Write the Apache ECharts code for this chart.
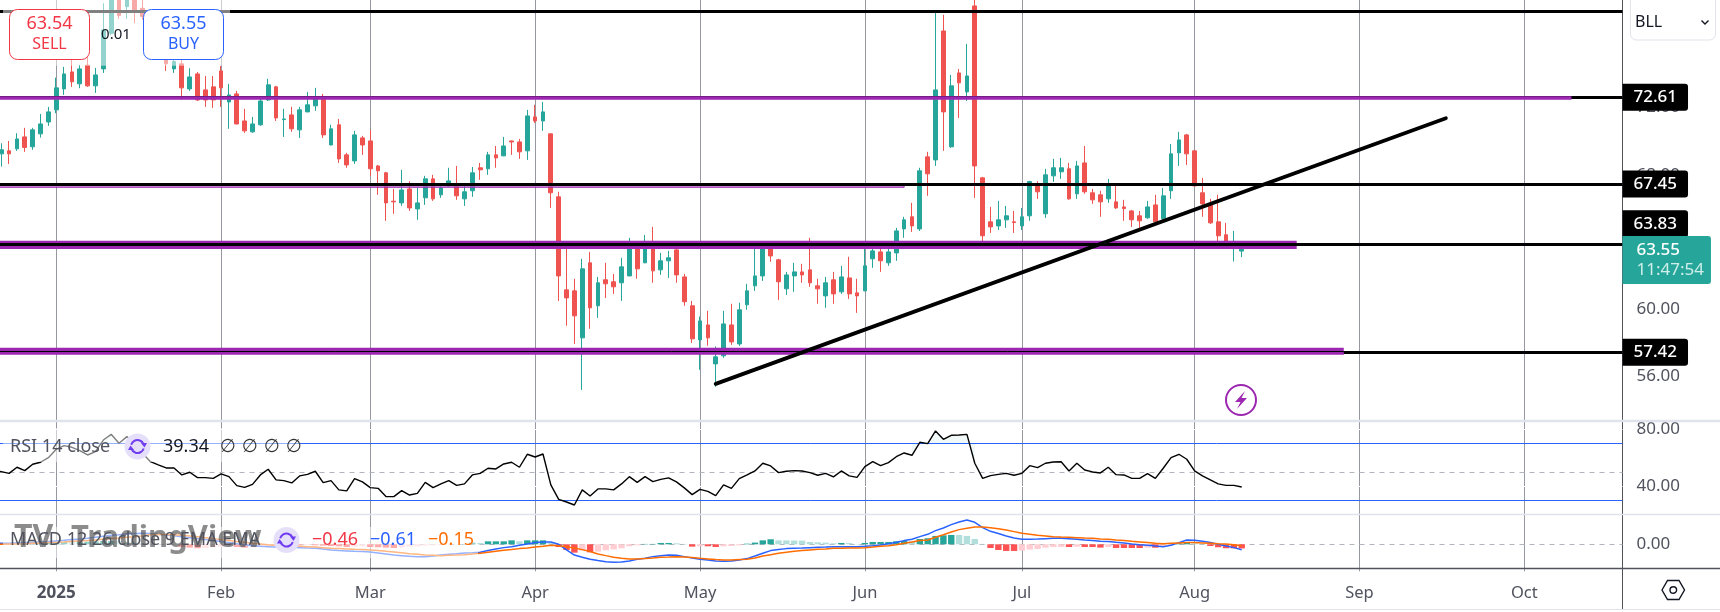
<!DOCTYPE html>
<html><head><meta charset="utf-8">
<style>html,body{margin:0;padding:0;background:#fff}#c{width:1720px;height:612px}</style>
<script src="https://cdn.jsdelivr.net/npm/echarts@6/dist/echarts.min.js"></script>
</head><body><div id="c"></div><script>
// first bar is 8 sessions before the 2025 label
const firstBar=-8;
const monthBars=[0,21,40,61,82,103,123,145,166,187];
const monthLabels=['2025','Feb','Mar','Apr','May','Jun','Jul','Aug','Sep','Oct'];
const lastSlot=199;
// [open, close, low, high]
const ohlc=[
[69.10,69.24,68.80,69.60],[69.24,69.48,68.48,69.87],[69.42,69.24,68.64,70.01],[69.54,70.13,69.42,70.47],[70.25,69.62,69.36,70.79],[69.66,70.67,69.48,70.79],[70.43,71.02,70.21,71.62],[71.14,71.74,70.91,72.04],
[71.86,73.17,71.66,73.78],[73.11,74.00,72.75,74.42],[74.12,73.53,73.23,74.84],[73.41,74.30,73.15,74.54],[74.52,73.29,73.23,75.04],[73.29,73.94,72.87,74.36],[74.30,76.62,74.06,78.21],[76.42,78.81,76.30,79.30],
[79.00,77.48,77.28,79.40],[78.01,78.90,77.28,79.30],[78.90,77.81,77.02,79.20],[77.91,77.42,77.22,78.60],[77.50,76.60,76.30,77.80],[76.60,75.90,75.50,76.90],[74.84,74.60,74.18,75.40],[74.30,74.74,74.06,75.20],
[74.60,73.17,72.45,74.84],[73.11,73.82,72.99,74.34],[74.00,72.45,72.39,74.12],[73.05,72.45,72.04,73.88],[73.23,72.45,71.98,73.88],[74.18,73.17,72.04,74.48],[72.33,72.75,70.73,73.41],[72.81,71.02,71.00,72.99],
[71.20,70.61,70.49,71.92],[70.55,71.02,70.49,71.44],[70.97,72.39,70.91,72.57],[72.45,73.35,72.39,73.71],[73.23,71.38,71.20,73.29],[71.28,71.32,70.25,71.92],[71.56,70.73,70.55,72.04],[70.67,71.86,70.19,72.04],
[71.74,72.16,71.72,72.93],[72.10,72.63,71.80,73.17],[72.57,70.37,70.19,72.81],[69.77,70.73,69.75,70.97],[70.97,68.94,68.70,71.32],[69.18,68.58,68.41,69.30],[68.82,70.37,68.64,70.61],[70.19,69.77,69.18,70.31],
[70.01,68.35,67.93,70.67],[68.52,68.23,66.80,68.58],[68.11,66.32,65.25,68.17],[66.42,66.38,65.67,67.15],[66.32,67.09,66.14,68.29],[67.15,66.02,65.84,67.61],[65.96,66.32,65.31,67.21],[66.62,67.75,66.20,67.93],
[67.75,66.56,66.44,67.99],[66.80,67.21,66.62,67.39],[67.33,67.63,67.31,68.41],[67.33,66.74,66.50,68.52],[66.56,66.98,66.14,67.39],[67.04,68.11,66.68,68.46],[68.41,68.29,67.69,68.70],[68.35,69.18,67.99,69.36],
[69.18,69.00,68.41,69.71],[69.12,69.71,69.10,70.25],[70.01,69.95,69.18,70.03],[69.95,69.36,68.94,70.13],[69.42,71.50,68.88,71.86],[71.44,71.20,71.08,72.16],[71.20,71.74,70.61,72.33],[70.43,66.92,66.02,70.45],
[66.68,61.97,60.48,66.98],[61.14,60.66,59.00,63.92],[61.08,59.59,57.92,61.80],[58.28,62.39,55.18,62.99],[62.75,60.07,58.82,63.40],[60.19,61.56,59.47,61.91],[61.74,61.50,60.66,62.75],[61.62,61.32,60.90,62.09],
[61.56,62.51,60.48,63.05],[61.97,63.82,61.95,64.24],[63.82,62.39,61.80,64.02],[62.75,63.82,62.73,64.41],[63.82,62.27,61.56,64.89],[62.33,62.87,62.03,63.34],[62.87,63.05,61.85,63.46],[63.52,62.03,61.56,63.58],
[61.91,60.43,60.19,62.09],[60.19,58.22,57.98,60.48],[58.16,59.29,56.38,59.55],[59.05,58.28,57.81,59.89],[56.73,57.15,55.36,57.77],[57.21,59.11,57.09,59.89],[59.05,58.04,57.86,60.31],[57.92,59.95,57.80,60.37],
[60.25,61.08,59.95,61.50],[61.38,61.97,61.08,63.62],[61.97,63.72,61.67,63.92],[63.72,63.16,62.81,63.82],[62.93,61.62,60.54,62.99],[61.20,62.03,60.84,62.21],[61.97,62.21,61.02,62.75],[62.21,62.03,61.56,62.69],
[62.33,61.56,61.32,64.24],[61.38,61.20,60.31,61.80],[60.78,61.56,60.07,61.91],[61.74,60.90,60.31,62.21],[61.02,61.91,60.90,62.57],[61.85,60.90,60.60,63.11],[60.96,60.78,59.77,61.80],[61.08,62.57,61.06,63.72],
[62.99,63.46,62.45,63.82],[63.40,62.87,62.21,63.58],[62.75,63.40,62.57,63.62],[63.34,64.65,62.87,64.83],[64.77,65.31,64.24,65.49],[65.49,64.95,64.59,66.32],[64.77,68.23,64.65,68.41],[69.06,68.05,66.74,69.36],
[68.88,73.05,68.52,77.64],[76.56,71.74,69.42,77.52],[69.66,73.29,69.60,73.94],[74.06,73.47,71.38,74.30],[72.93,73.88,72.39,75.79],[78.05,68.52,66.62,78.80],[67.81,64.36,63.82,67.87],[65.19,64.89,64.53,66.08],
[64.95,65.31,64.71,66.44],[65.31,65.55,64.83,66.14],[65.19,65.15,64.53,65.84],[64.95,65.49,64.71,66.02],[65.55,67.59,65.25,67.63],[67.43,66.98,66.56,67.61],[65.67,67.99,65.43,68.35],[67.93,68.41,67.57,68.94],
[68.17,68.41,67.75,69.00],[68.35,66.56,66.50,68.70],[66.86,68.52,66.56,68.82],[68.70,66.98,66.86,69.71],[66.92,66.50,66.26,67.15],[66.80,66.38,65.49,67.04],[66.56,67.39,66.32,67.75],[66.38,66.02,65.96,67.39],
[66.08,65.98,65.25,66.50],[65.84,65.31,64.89,65.90],[65.55,65.25,64.83,65.84],[65.43,66.08,65.37,66.44],[66.20,65.19,65.13,66.80],[65.37,66.74,65.31,67.21],[67.04,69.24,66.56,69.83],[69.30,70.07,68.52,70.55],
[70.37,69.24,68.58,70.43],[69.42,67.33,67.31,69.44],[66.92,66.26,65.49,67.81],[66.20,65.13,65.07,66.56],[65.19,64.36,64.02,66.80],[64.42,64.02,63.72,65.13],[63.62,63.92,62.83,64.65],[63.45,63.55,63.09,64.02]
];
const rsi=[50.5,
50.1,48.9,53.2,50.8,55.3,56.7,59.9,65.8,68.4,67.2,64.9,61.8,64.2,72.3,76.3,70.0,74.7,70.0,63.0,57.1,
54.8,52.7,52.7,47.8,49.7,45.9,45.9,45.4,48.5,46.6,40.3,39.1,41.2,47.8,51.8,44.3,43.8,42.2,47.1,48.2,
50.4,42.4,43.8,37.3,36.6,45.2,42.9,38.9,38.4,32.6,32.6,36.8,33.7,34.9,42.6,38.9,41.5,43.8,40.5,41.5,
47.8,48.9,52.5,52.0,55.5,56.7,53.2,62.3,60.4,62.5,40.8,30.7,28.8,26.7,37.3,33.0,38.0,38.0,37.3,41.5,
46.6,42.6,46.6,43.1,44.7,45.7,42.9,38.7,34.0,37.7,36.3,33.3,40.8,38.4,45.2,47.8,50.6,56.0,54.1,49.4,
50.4,50.8,50.6,49.4,47.6,48.9,46.4,50.6,47.1,46.1,53.6,57.1,54.3,56.4,60.6,63.2,61.6,70.7,69.8,78.7,
72.8,75.6,75.8,76.3,56.0,45.4,47.3,48.2,48.9,47.6,48.9,54.3,52.9,56.0,56.9,57.1,50.6,56.0,51.3,49.9,
49.2,53.2,48.0,47.8,45.4,45.4,48.7,45.4,52.5,59.9,62.3,58.8,50.6,47.1,44.3,41.5,40.5,40.5,39.34];
const macdLine=[.11,
.11,.11,.15,.19,.22,.26,.30,.37,.44,.52,.59,.67,.78,.89,1.00,1.07,1.15,1.19,1.22,1.19,
1.11,1.04,.96,.85,.74,.63,.52,.41,.30,.19,.07,-.04,-.15,-.22,-.26,-.30,-.33,-.33,-.37,-.41,
-.44,-.52,-.63,-.70,-.74,-.78,-.81,-.85,-.96,-1.07,-1.19,-1.26,-1.33,-1.37,-1.37,-1.30,-1.19,-1.11,-1.04,-.96,
-.93,-.89,-.70,-.52,-.37,-.26,-.11,.04,.19,.26,.26,0,-.63,-1.19,-1.44,-1.67,-1.81,-1.93,-2.00,-1.96,
-1.85,-1.67,-1.56,-1.37,-1.26,-1.19,-1.22,-1.37,-1.52,-1.67,-1.74,-1.85,-1.89,-1.85,-1.74,-1.59,-1.30,-1.00,-.70,-.59,
-.48,-.44,-.41,-.37,-.33,-.30,-.26,-.26,-.26,-.26,-.22,-.15,-.07,.07,.22,.41,.56,.85,1.11,1.52,
1.81,2.19,2.48,2.70,2.44,1.85,1.44,1.19,.93,.70,.56,.56,.59,.63,.67,.67,.63,.56,.48,.41,
.33,.30,.22,.15,.04,-.04,-.11,-.19,-.26,-.11,.19,.48,.44,.33,.19,0,-.19,-.37,-.61];
const signalLine=[0,
0,.02,.04,.07,.11,.15,.19,.22,.26,.33,.37,.41,.48,.56,.63,.70,.78,.85,.93,1.10,
1.10,1.08,1.05,1.00,.93,.85,.74,.63,.52,.41,.30,.22,.11,.04,-.04,-.11,-.15,-.19,-.22,-.26,
-.30,-.37,-.44,-.48,-.52,-.56,-.59,-.63,-.70,-.78,-.85,-.93,-1.04,-1.11,-1.19,-1.22,-1.26,-1.22,-1.19,-1.15,
-1.07,-1.00,-.89,-.78,-.67,-.59,-.48,-.41,-.30,-.22,-.11,-.15,-.26,-.41,-.59,-.81,-1.07,-1.26,-1.44,-1.56,
-1.63,-1.63,-1.59,-1.52,-1.44,-1.41,-1.37,-1.41,-1.48,-1.56,-1.63,-1.70,-1.74,-1.74,-1.70,-1.67,-1.52,-1.30,-1.15,-1.00,
-.89,-.78,-.70,-.63,-.56,-.52,-.44,-.44,-.41,-.41,-.37,-.30,-.22,-.15,-.04,.11,.26,.41,.48,.78,
1.07,1.37,1.63,1.78,1.93,1.93,1.85,1.74,1.59,1.41,1.22,1.11,1.00,.93,.85,.81,.78,.74,.70,.67,
.59,.56,.48,.41,.33,.26,.19,.11,.07,.11,.15,.19,.19,.15,.11,.07,.04,-.04,-.15];
const macdHist=[-.04,
-.04,-.04,0,.04,.07,.11,.15,.22,.26,.22,.26,.30,.33,.37,.37,.33,.30,.22,.11,.04,
.03,.02,.01,-.30,-.37,-.44,-.41,-.33,-.26,-.22,-.30,-.37,-.33,-.26,-.19,-.15,-.11,-.11,-.11,-.07,
-.11,-.15,-.19,-.22,-.30,-.26,-.22,-.30,-.33,-.37,-.41,-.37,-.26,-.22,-.15,-.11,-.07,-.04,0,.04,
.19,.15,.33,.33,.33,.44,.33,.44,.44,.44,.19,-.30,-.63,-.93,-.70,-.89,-.81,-.67,-.56,-.44,
-.22,-.11,.04,.04,.15,.15,.11,.04,-.26,-.22,-.22,-.30,-.22,-.19,-.11,.07,.19,.44,.56,.44,
.43,.42,.41,.26,.22,.19,.11,.15,.14,.04,.15,.26,.26,.26,.33,.37,.30,.59,.67,.93,
1.00,1.04,1.03,.93,.59,.04,-.41,-.63,-.74,-.74,-.70,-.59,-.52,-.37,-.30,-.29,-.30,-.26,-.30,-.30,
-.37,-.30,-.41,-.41,-.41,-.41,-.37,-.38,-.19,-.07,.11,.19,.11,.07,-.19,-.33,-.44,-.45,-.46];
const priceTicks=[56,60,64,68,72];
const topLevel=77.73, resistance=72.61, midLevel=67.45, pivot=63.83, support=57.42;
const lastPrice=63.55;
const trendFrom=[84,55.54], trendTo=[177,71.36];
const band67=[67.45,67.25,108], band64=[64.06,63.58,158], band57=[57.69,57.27,164], band57mid=57.49, resistanceEnd=193;
const rsiTicks=[40,80], rsiBands=[70,30], rsiMid=50;

const slot=i=>i-firstBar;
const N=lastSlot-firstBar+1;
const step=7.851;
const plotRight=1622.5, plotLeft=plotRight-N*step;
const categories=Array.from({length:N},(_,k)=>{const i=k+firstBar,m=monthBars.indexOf(i);return m>=0?monthLabels[m]:String(i)});
const isMonth=k=>monthBars.includes(k+firstBar);

const INK='#50535e',UP='#26a69a',DOWN='#ef5350',PUR='#9c27b0',FONT='"Noto Sans",sans-serif';
const F=17;
function xA(g,labels){return {type:'category',gridIndex:g,data:categories,boundaryGap:true,
  axisLine:{show:false},axisTick:{show:false},
  axisLabel:labels?{show:true,interval:(k)=>isMonth(k),margin:13,color:INK,fontSize:16.5,fontFamily:FONT,hideOverlap:false,
     formatter:v=>v==='2025'?'{b|2025}':v,rich:{b:{fontWeight:'bold',fontSize:17,color:INK,fontFamily:FONT}}}:{show:false},
  splitLine:{show:true,alignWithLabel:true,interval:(k)=>isMonth(k),lineStyle:{color:'#9598a1',width:1}}}}
function yA(g,min,max,interval,ticks,split){return {type:'value',gridIndex:g,position:'right',min,max,interval,scale:true,
  axisLine:{show:true,lineStyle:{color:INK,width:1}},axisTick:{show:false},
  axisLabel:{show:true,margin:14,color:INK,fontSize:F,fontFamily:FONT,showMinLabel:true,showMaxLabel:true,
     formatter:v=>ticks.includes(v)?v.toFixed(2):''},
  splitLine:{show:!!split,lineStyle:{color:'#fff',width:1}}}}
const lbl=(text,extra)=>Object.assign({show:true,formatter:text,position:'end',distance:0,color:'#fff',backgroundColor:'#000',
   fontFamily:FONT,fontSize:F,fontWeight:500,lineHeight:17,padding:[5,11,5,11],borderRadius:[0,3,3,0]},extra||{});
const blackLine=(v,extra)=>({yAxis:v,label:lbl(v.toFixed(2),extra)});
const plain={show:false};
function marks(gridIdx,z,mark){return Object.assign({type:'line',xAxisIndex:gridIdx,yAxisIndex:gridIdx,data:[],silent:true,animation:false},mark(z));}
const mline=(data,color,width,type,z)=>({markLine:{silent:true,animation:false,symbol:'none',precision:4,z,lineStyle:{color,width,type:type||'solid'},label:plain,data}});
const marea=(top,bottom,endBar,fill,border,z)=>({markArea:{silent:true,animation:false,z,
   itemStyle:{color:fill,borderColor:border,borderWidth:border?1:0},label:plain,
   data:[[{xAxis:0,yAxis:top},{xAxis:slot(endBar),yAxis:bottom}]]}});
const gridBase={left:plotLeft,width:N*step,containLabel:false,outerBoundsMode:'none'};

const option={backgroundColor:'#fff',animation:false,
 grid:[
  Object.assign({top:-26.8,height:470.1},gridBase),
  Object.assign({top:414.8,height:99.75},gridBase),
  Object.assign({top:508.3,height:63},gridBase)],
 xAxis:[xA(0,false),xA(1,false),xA(2,true)],
 yAxis:[yA(0,52,80,4,priceTicks,true),yA(1,20,90,10,rsiTicks,false),yA(2,-3,4,1,[0],false)],
 series:[
  // black levels that sit under the purple bands
  Object.assign({type:'line',data:[],silent:true,z:3},mline([blackLine(resistance),blackLine(support)],'#000',3,'solid',3)),
  {type:'candlestick',data:ohlc,xAxisIndex:0,yAxisIndex:0,barWidth:4.2,z:2,silent:true,clip:true,
    itemStyle:{color:UP,color0:DOWN,borderColor:UP,borderColor0:DOWN,borderWidth:1}},
  // purple bands
  Object.assign({type:'line',data:[],silent:true},marea(band67[0],band67[1],band67[2],'rgba(190,110,205,.7)',PUR,4)),
  Object.assign({type:'line',data:[],silent:true},marea(band64[0],band64[1],band64[2],PUR,null,4)),
  Object.assign({type:'line',data:[],silent:true},marea(band57[0],band57[1],band57[2],PUR,null,4)),
  Object.assign({type:'line',data:[],silent:true},mline([[{xAxis:0,yAxis:resistance},{xAxis:slot(resistanceEnd),yAxis:resistance}]],PUR,3.5,'solid',5)),
  Object.assign({type:'line',data:[],silent:true},mline([[{xAxis:0,yAxis:band57mid},{xAxis:slot(band57[2]),yAxis:band57mid}]],'#000',1,'solid',6)),
  // black levels above the bands
  Object.assign({type:'line',data:[],silent:true},mline([
     blackLine(topLevel,{show:false}),blackLine(midLevel),blackLine(pivot,{offset:[0,-21]})],'#000',3,'solid',7)),
  // live price tag
  Object.assign({type:'line',data:[],silent:true},mline([{yAxis:lastPrice,lineStyle:{color:'rgba(0,0,0,0)'},label:{show:true,opacity:1,position:'end',distance:0,
     formatter:'{a|'+lastPrice.toFixed(2)+'}\n{b|11:47:54}',backgroundColor:UP,padding:[4,7,4,14],borderRadius:[0,3,3,0],offset:[0,10.6],
     rich:{a:{color:'#fff',fontSize:F,fontWeight:500,lineHeight:20,fontFamily:FONT},b:{color:'#cfeeea',fontSize:F,lineHeight:20,fontFamily:FONT}}}}],'rgba(0,0,0,0)',1,'solid',8)),
  // trend line
  {type:'line',xAxisIndex:0,yAxisIndex:0,data:[[slot(trendFrom[0]),trendFrom[1]],[slot(trendTo[0]),trendTo[1]]],showSymbol:false,silent:true,z:9,
    lineStyle:{color:'#000',width:3.8,cap:'round'}},
  // RSI pane
  Object.assign(marks(1,3,z=>mline(rsiTicks.map(v=>({yAxis:v})),'#fff',1,'solid',z))),
  Object.assign(marks(1,3,z=>mline(rsiBands.map(v=>({yAxis:v})),'#2962ff',1,'solid',z))),
  Object.assign(marks(1,3,z=>mline([{yAxis:rsiMid}],'#b2b5be',1,[5,5],z))),
  {type:'line',xAxisIndex:1,yAxisIndex:1,data:rsi.map((v,k)=>v>=70||rsi[k-1]>=70||rsi[k+1]>=70?v:null),showSymbol:false,silent:true,z:4,connectNulls:false,
    lineStyle:{opacity:0},areaStyle:{origin:70,color:'rgba(38,166,154,.10)'}},
  {type:'line',xAxisIndex:1,yAxisIndex:1,data:rsi,showSymbol:false,silent:true,z:5,lineStyle:{color:'#000',width:1.4}},
  // MACD pane
  Object.assign(marks(2,3,z=>mline([{yAxis:0}],'#b2b5be',1,[5,5],z))),
  {type:'bar',xAxisIndex:2,yAxisIndex:2,barWidth:6.4,silent:true,z:3,
    data:macdHist.map((v,k)=>{const p=k?macdHist[k-1]:v;
      return {value:v,itemStyle:{color:v>=0?(v>=p?UP:'#b2dfdb'):(v<=p?'#ff5252':'#ffcdd2')}}})},
  {type:'line',xAxisIndex:2,yAxisIndex:2,data:macdLine,showSymbol:false,silent:true,z:5,lineStyle:{color:'#2962ff',width:1.5}},
  {type:'line',xAxisIndex:2,yAxisIndex:2,data:signalLine,showSymbol:false,silent:true,z:6,lineStyle:{color:'#ff6d00',width:1.5}}
 ],
 graphic:{elements:[
  // pane chrome
  {type:'line',z:40,shape:{x1:0,y1:421,x2:1720,y2:421},style:{stroke:'#e0e3eb',lineWidth:2.4}},
  {type:'line',z:40,shape:{x1:0,y1:514.5,x2:1720,y2:514.5},style:{stroke:'#e0e3eb',lineWidth:1.4}},
  {type:'line',z:40,shape:{x1:0,y1:568.5,x2:1720,y2:568.5},style:{stroke:INK,lineWidth:1.4}},
  {type:'line',z:40,shape:{x1:1622.5,y1:568,x2:1622.5,y2:609},style:{stroke:INK,lineWidth:1}},
  {type:'line',z:40,shape:{x1:0,y1:609.5,x2:1720,y2:609.5},style:{stroke:'#e0e3eb',lineWidth:1}},
  // legend washes
  {type:'rect',z:50,shape:{x:3,y:0,width:227,height:65.7},style:{fill:'rgba(255,255,255,.5)'}},
  {type:'rect',z:50,shape:{x:3,y:428,width:297,height:34},style:{fill:'rgba(255,255,255,.5)'}},
  {type:'rect',z:50,shape:{x:3,y:527,width:475,height:31},style:{fill:'rgba(255,255,255,.5)'}},
  // watermark
  {type:'text',z:55,style:{text:'TV',x:14,y:538,font:'bold 32px "Noto Sans",sans-serif',fill:'rgba(70,70,70,.62)',textAlign:'left',textVerticalAlign:'middle'}},
  {type:'text',z:55,style:{text:'TradingView',x:71,y:538,font:'bold 31px "Noto Sans",sans-serif',fill:'rgba(70,70,70,.62)',textAlign:'left',textVerticalAlign:'middle'}},
  // SELL / BUY
  {type:'rect',z:60,shape:{x:9.5,y:9.5,width:80,height:50,r:8},style:{fill:'#fff',stroke:'#f23645',lineWidth:1}},
  {type:'text',z:61,style:{text:'63.54',x:49.5,y:24,font:'18px "Noto Sans",sans-serif',fill:'#f23645',textAlign:'center',textVerticalAlign:'middle'}},
  {type:'text',z:61,style:{text:'SELL',x:49.5,y:44,font:'16px "Noto Sans",sans-serif',fill:'#f23645',textAlign:'center',textVerticalAlign:'middle'}},
  {type:'rect',z:60,shape:{x:143.5,y:9.5,width:80,height:50,r:8},style:{fill:'#fff',stroke:'#2962ff',lineWidth:1}},
  {type:'text',z:61,style:{text:'63.55',x:183.5,y:24,font:'18px "Noto Sans",sans-serif',fill:'#2962ff',textAlign:'center',textVerticalAlign:'middle'}},
  {type:'text',z:61,style:{text:'BUY',x:183.5,y:44,font:'16px "Noto Sans",sans-serif',fill:'#2962ff',textAlign:'center',textVerticalAlign:'middle'}},
  {type:'text',z:61,style:{text:'0.01',x:116,y:35,font:'15px "Noto Sans",sans-serif',fill:'#131722',textAlign:'center',textVerticalAlign:'middle'}},
  // symbol box
  {type:'rect',z:60,shape:{x:1630.5,y:-8,width:85,height:48,r:6},style:{fill:'#fff',stroke:'#e0e3eb',lineWidth:1}},
  {type:'text',z:61,style:{text:'BLL',x:1635,y:22,font:'16px "Noto Sans",sans-serif',fill:'#131722',textAlign:'left',textVerticalAlign:'middle'}},
  {type:'polyline',z:61,shape:{points:[[1701.5,20.5],[1705,24],[1708.5,20.5]]},style:{stroke:'#131722',lineWidth:1.4,fill:null}},
  // RSI legend
  {type:'text',z:61,style:{text:'RSI 14 close',x:10,y:447,font:'18px "Noto Sans",sans-serif',fill:INK,textAlign:'left',textVerticalAlign:'middle'}},
  {type:'circle',z:60,shape:{cx:137.5,cy:446.5,r:13},style:{fill:'#e6dffa'}},
  {type:'arc',z:61,shape:{cx:137.5,cy:446.5,r:6.5,startAngle:3.4,endAngle:5.9},style:{stroke:'#6f3cf0',lineWidth:2,fill:null}},
  {type:'arc',z:61,shape:{cx:137.5,cy:446.5,r:6.5,startAngle:0.3,endAngle:2.8},style:{stroke:'#6f3cf0',lineWidth:2,fill:null}},
  {type:'polygon',z:61,shape:{points:[[141,443],[147,443],[144.5,447.5]]},style:{fill:'#6f3cf0'}},
  {type:'polygon',z:61,shape:{points:[[128,450],[134,450],[130.5,445.5]]},style:{fill:'#6f3cf0'}},
  {type:'text',z:61,style:{text:'39.34',x:163,y:447,font:'18px "Noto Sans",sans-serif',fill:'#131722',textAlign:'left',textVerticalAlign:'middle'}},
  {type:'text',z:61,style:{text:'∅ ∅ ∅ ∅',x:220,y:447,font:'italic 18.5px "DejaVu Sans",sans-serif',fill:'#333',textAlign:'left',textVerticalAlign:'middle'}},
  // MACD legend
  {type:'text',z:61,style:{text:'MACD 12 26 close 9 EMA EMA',x:10,y:540,font:'18px "Noto Sans",sans-serif',fill:INK,textAlign:'left',textVerticalAlign:'middle'}},
  {type:'circle',z:60,shape:{cx:286.5,cy:540,r:13},style:{fill:'#e6dffa'}},
  {type:'arc',z:61,shape:{cx:286.5,cy:540,r:6.5,startAngle:3.4,endAngle:5.9},style:{stroke:'#6f3cf0',lineWidth:2,fill:null}},
  {type:'arc',z:61,shape:{cx:286.5,cy:540,r:6.5,startAngle:0.3,endAngle:2.8},style:{stroke:'#6f3cf0',lineWidth:2,fill:null}},
  {type:'polygon',z:61,shape:{points:[[290,536.5],[296,536.5],[293.5,541]]},style:{fill:'#6f3cf0'}},
  {type:'polygon',z:61,shape:{points:[[277,543.5],[283,543.5],[279.5,539]]},style:{fill:'#6f3cf0'}},
  {type:'text',z:61,style:{text:'−0.46',x:312,y:540,font:'18px "Noto Sans",sans-serif',fill:'#f23645',textAlign:'left',textVerticalAlign:'middle'}},
  {type:'text',z:61,style:{text:'−0.61',x:370,y:540,font:'18px "Noto Sans",sans-serif',fill:'#2962ff',textAlign:'left',textVerticalAlign:'middle'}},
  {type:'text',z:61,style:{text:'−0.15',x:428,y:540,font:'18px "Noto Sans",sans-serif',fill:'#ff6d00',textAlign:'left',textVerticalAlign:'middle'}},
  // event bolt
  {type:'circle',z:20,shape:{cx:1241,cy:400,r:15},style:{fill:'#fff',stroke:PUR,lineWidth:2}},
  {type:'polygon',z:21,shape:{points:[[1245,391],[1235,402],[1240.5,402],[1237,409],[1247,398],[1241.5,398]]},style:{fill:PUR}},
  // settings
  {type:'polygon',z:61,shape:{points:[[1662,590],[1667.5,580.5],[1679,580.5],[1684.5,590],[1679,599.5],[1667.5,599.5]]},style:{fill:'#fff',stroke:'#131722',lineWidth:1.4}},
  {type:'circle',z:62,shape:{cx:1673.3,cy:590,r:3.3},style:{fill:'#fff',stroke:'#131722',lineWidth:1.4}}
 ]}
};
echarts.init(document.getElementById('c'),null,{renderer:'canvas'}).setOption(option);
</script></body></html>
